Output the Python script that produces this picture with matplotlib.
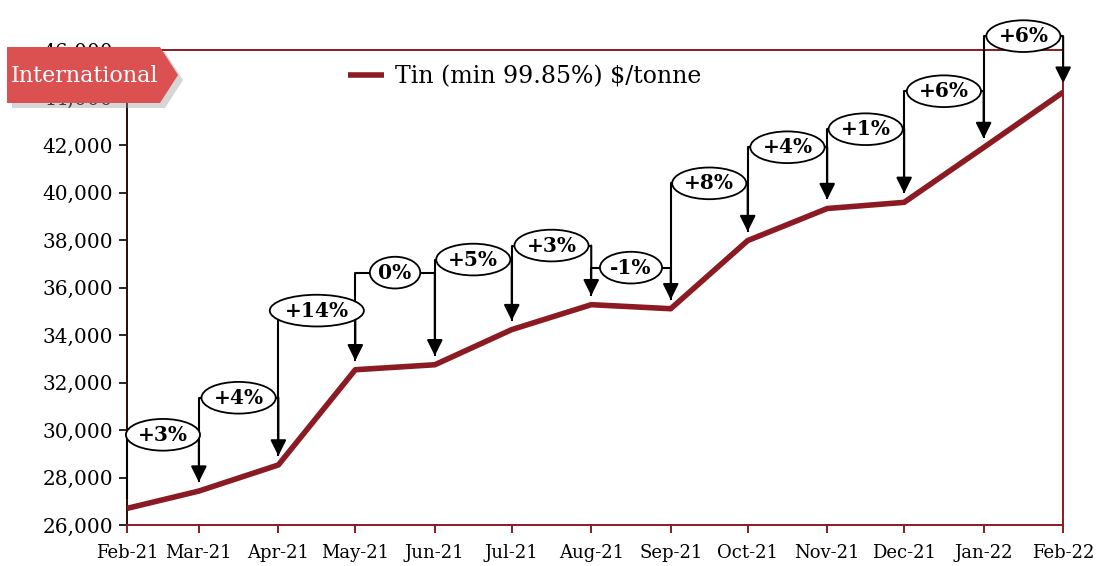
import matplotlib
matplotlib.use("Agg")
import matplotlib.pyplot as plt
import matplotlib.dates as mdates
from matplotlib.patches import Polygon
import pandas as pd

months = ["Feb-21", "Mar-21", "Apr-21", "May-21", "Jun-21", "Jul-21", "Aug-21",
          "Sep-21", "Oct-21", "Nov-21", "Dec-21", "Jan-22", "Feb-22"]
prices = [26700, 27430, 28530, 32540, 32750, 34230, 35280,
          35110, 37980, 39330, 39590, 41900, 44230]
changes = ["+3%", "+4%", "+14%", "0%", "+5%", "+3%", "-1%",
           "+8%", "+4%", "+1%", "+6%", "+6%"]
label_levels = [29800, 31360, 35030, 36630, 37180, 37770, 36840,
                40390, 41910, 42670, 44270, 46590]
yticks = list(range(26000, 46001, 2000))

dates = pd.to_datetime(["2021-02-01", "2021-03-01", "2021-04-01", "2021-05-01",
                        "2021-06-01", "2021-07-01", "2021-08-01", "2021-09-01",
                        "2021-10-01", "2021-11-01", "2021-12-01", "2022-01-01",
                        "2022-02-01"])
xnum = mdates.date2num(dates)

LINE = "#8B1A22"
SERIF = "DejaVu Serif"
plt.rcParams["font.family"] = [SERIF]

fig = plt.figure(figsize=(11, 5.66), dpi=100)
ax = fig.add_axes([0.1155, 0.0724, 0.851, 0.839])

ax.plot(xnum, prices, color=LINE, lw=4.0, solid_capstyle="butt",
        label="Tin (min 99.85%) $/tonne", zorder=3)

gap = 380
for i, (lab, lev) in enumerate(zip(changes, label_levels)):
    x1, x2 = xnum[i], xnum[i + 1]
    v1, v2 = prices[i], prices[i + 1]
    ax.plot([x1, x1, x2], [v1 + gap, lev, lev], color="black", lw=1.5,
            zorder=4, clip_on=False, solid_capstyle="butt")
    ax.annotate("", xy=(x2, v2 + gap), xytext=(x2, lev),
                arrowprops=dict(arrowstyle="-|>", color="black", lw=1.5,
                                mutation_scale=24, shrinkA=0, shrinkB=0),
                zorder=4, annotation_clip=False)
    ax.text((x1 + x2) / 2, lev, lab, ha="center", va="center",
            fontsize=14.5, fontweight="bold", zorder=6, clip_on=False,
            bbox=dict(boxstyle="ellipse,pad=0.06", fc="white", ec="black", lw=1.3))

ax.set_xlim(xnum[0], xnum[-1])
ax.set_ylim(26000, 46000)
ax.set_xticks(xnum)
ax.set_xticklabels(months, fontsize=13)
ax.set_yticks(yticks)
ax.set_yticklabels([f"{v:,}" for v in yticks], fontsize=14.5)

for s in ["top", "right", "bottom"]:
    ax.spines[s].set_color(LINE)
    ax.spines[s].set_linewidth(1.4)
ax.spines["left"].set_color("#2a0a0a")
ax.spines["left"].set_linewidth(1.4)
ax.tick_params(axis="x", colors=LINE, length=6, width=1.4, labelcolor="black", pad=8)
ax.tick_params(axis="y", colors="black", length=6, width=1.2, pad=4)

leg = ax.legend(loc="center", bbox_to_anchor=(0.425, 0.945), frameon=False,
                fontsize=17, handlelength=1.5, handletextpad=0.5)

# "International" badge
W, H = 1100, 566
pts = [(7, 47), (160, 47), (178, 75), (160, 103), (7, 103)]
shadow = Polygon([((x + 5) / W, 1 - (y + 5) / H) for x, y in pts], closed=True,
                 transform=fig.transFigure, fc="#999999", ec="none", alpha=0.4, zorder=20)
badge = Polygon([(x / W, 1 - y / H) for x, y in pts], closed=True,
                transform=fig.transFigure, fc="#DB5050", ec="none", zorder=21)
fig.patches.extend([shadow, badge])
fig.text(85 / W, 1 - 76 / H, "International", color="white", fontsize=16,
         ha="center", va="center", zorder=22)

fig.savefig("out.png", dpi=100)
